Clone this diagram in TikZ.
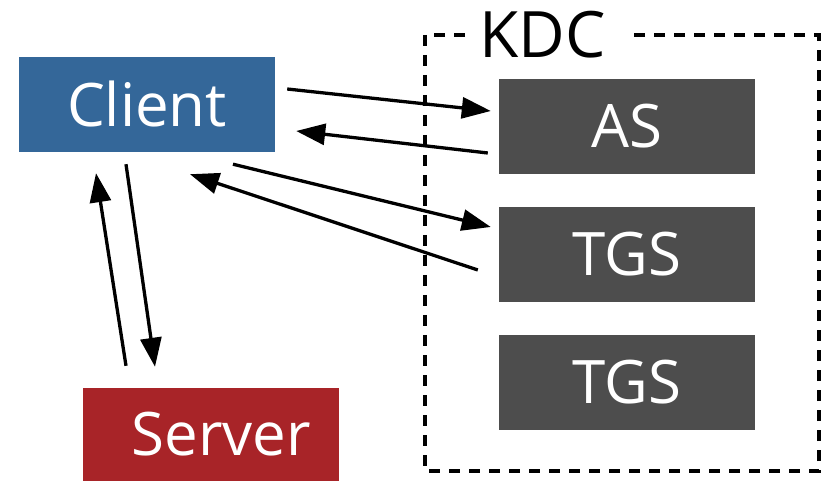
\documentclass[tikz,border=0pt]{standalone}
\usepackage{fontspec}
\setmainfont{Open Sans}
\usetikzlibrary{arrows.meta,calc}
\definecolor{clientblue}{RGB}{52,103,153}
\definecolor{serverred}{RGB}{168,36,40}
\definecolor{kdcgray}{RGB}{77,77,77}
\tikzset{
  box/.style={rectangle, minimum width=256pt, minimum height=95pt, inner sep=0pt, text=white, font=\fontsize{60}{60}\selectfont},
  msg/.style={line width=3.3pt, -{Triangle[length=29pt,width=21pt]}},
  kdcframe/.style={draw, line width=3.3pt, dash pattern=on 11pt off 9pt}
}
\begin{document}
\begin{tikzpicture}[x=1pt,y=-1pt]
\useasboundingbox (0,0) rectangle (828,481);
\draw[kdcframe] (425,35) rectangle (819,471);
\node[fill=white, inner xsep=12pt, inner ysep=0pt, font=\fontsize{64}{64}\selectfont] (kdc) at (547,35) {KDC\hspace*{9pt}};
\node[box, fill=clientblue] (client) at (147,104.5) {Client};
\node[box, fill=kdcgray] (as) at (627,126.5) {AS};
\node[box, fill=kdcgray] (tgs1) at (627,254.5) {TGS};
\node[box, fill=kdcgray] (tgs2) at (627,382.5) {TGS};
\node[box, fill=serverred, minimum height=93pt] (server) at (211,434.5) {\hspace*{21pt}Server};
\draw[msg] ($(client.east)+(12,-15.5)$) -- ($(as.west)+(-8,-15.5)$);
\draw[msg] ($(as.west)+(-11,26.5)$) -- ($(client.east)+(21,26.5)$);
\draw[msg] ($(client.south)+(86,12)$) -- ($(tgs1.west)+(-8,-27.5)$);
\draw[msg] ($(tgs1.west)+(-21,15.5)$) -- ($(client.south)+(43,22)$);
\draw[msg] ($(client.south)+(-21,12)$) -- ($(server.north)+(-56,-21)$);
\draw[msg] ($(server.north)+(-85,-22)$) -- ($(client.south)+(-51,21)$);
\end{tikzpicture}
\end{document}
